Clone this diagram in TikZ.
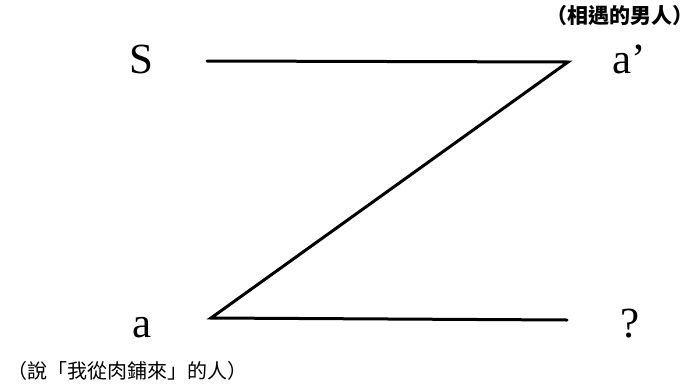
\documentclass[tikz,border=0pt]{standalone}
\usepackage{fontspec}
\setmainfont{Liberation Serif}
\newfontfamily\cjk{Noto Sans CJK TC}
\usepackage{tikz}
\usetikzlibrary{positioning}

\begin{document}
\begin{tikzpicture}[x=1pt, y=-1pt,
    leg/.style={line width=3pt, line cap=round, line join=miter},
    letter/.style={inner sep=0pt, anchor=base, font=\fontsize{43}{43}\selectfont},
    gloss/.style={inner sep=0pt, font=\cjk\fontsize{20}{20}\selectfont}]
  \useasboundingbox (0,0) rectangle (698,383);

  % Corners of the Z
  \coordinate (tl) at (207,61);
  \coordinate (tr) at (568,62);
  \coordinate (bl) at (211,318);
  \coordinate (br) at (567,320);

  % Legs
  \draw[leg] (tl) -- (tr) -- (bl) -- (br);

  % Letters
  \node[letter] (S) at (141,73) {S};
  \node[letter, anchor=base west] (ap) at (612,73) {a'};
  \node[letter] (a) at (142,337) {a};
  \node[letter] (q) at (630,337) {?};

  % Glosses
  \node[gloss, font=\cjk\bfseries\fontsize{21}{21}\selectfont] (met) at (620,16) {（相遇的男人）};
  \node[gloss] (said) at (127,371) {（說「我從肉鋪來」的人）};
\end{tikzpicture}
\end{document}
